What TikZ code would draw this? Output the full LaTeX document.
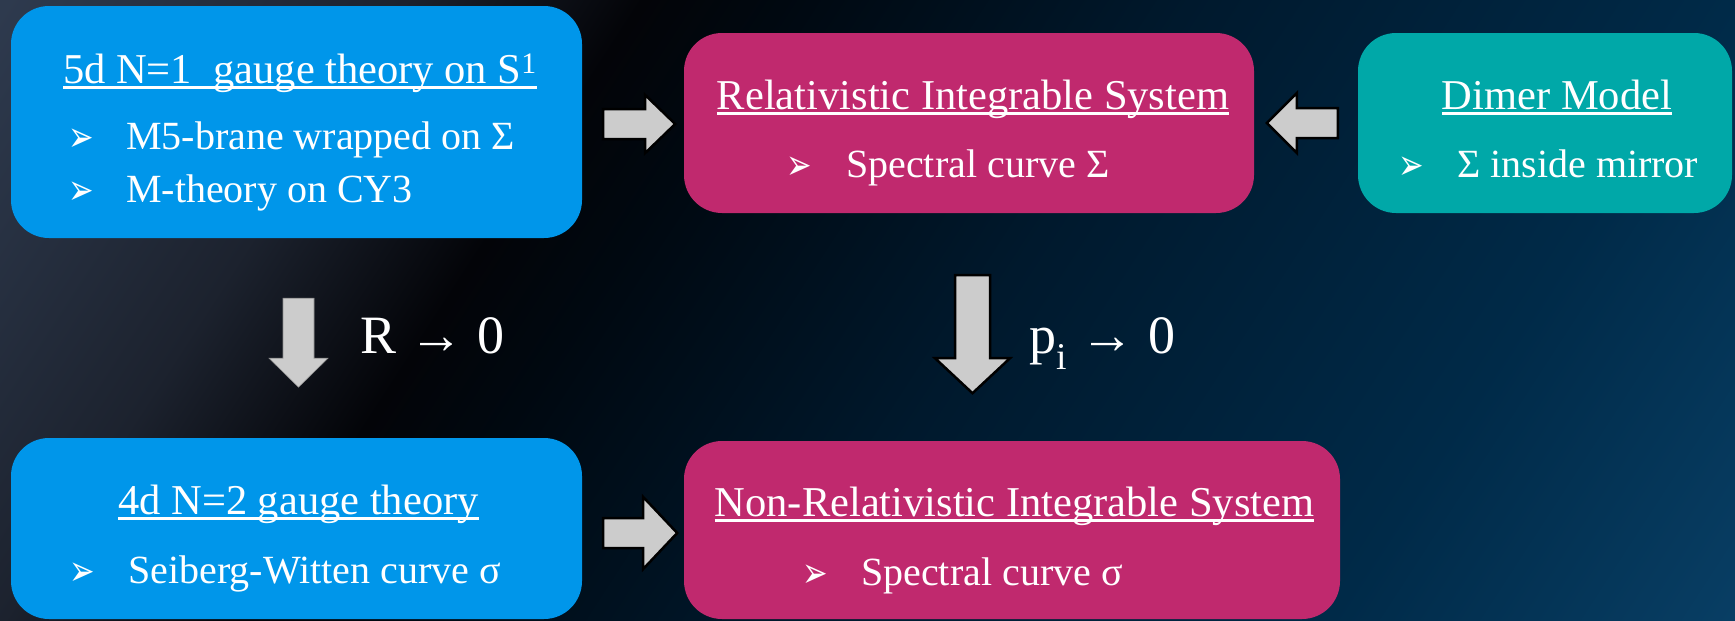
\documentclass[tikz,border=0pt]{standalone}
\usepackage{fontspec}
\usepackage{graphicx}
\setmainfont{Liberation Serif}
\newfontfamily\dvsans{DejaVu Sans}
\usetikzlibrary{calc}
\definecolor{boxblue}{RGB}{0,150,234}
\definecolor{boxpink}{RGB}{192,41,110}
\definecolor{boxteal}{RGB}{0,168,168}
\definecolor{arrgray}{RGB}{204,204,204}
\definecolor{bgA}{RGB}{46,58,78}
\definecolor{bgB}{RGB}{28,34,46}
\definecolor{bgC}{RGB}{3,4,8}
\definecolor{bgD}{RGB}{0,8,16}
\definecolor{bgE}{RGB}{0,25,45}
\definecolor{bgF}{RGB}{0,42,72}
\definecolor{bgG}{RGB}{8,62,100}
\pgfdeclarehorizontalshading{bgshade}{100bp}{color(0bp)=(bgA); color(27.6bp)=(bgA); color(36bp)=(bgB); color(41bp)=(bgC); color(44bp)=(bgD); color(52.6bp)=(bgE); color(64bp)=(bgF); color(72.5bp)=(bgG); color(100bp)=(bgG)}
\newcommand\ttlfont{\fontsize{42.5}{50}\selectfont}
\newcommand\itmfont{\fontsize{40}{48}\selectfont}
\newcommand\lblfont{\fontsize{54}{60}\selectfont}
\newcommand\thul[1]{\setbox0\hbox{#1}\rlap{\rule[-5.5pt]{\wd0}{3pt}}\box0}
\newcommand\bul{\raisebox{-2pt}{\scalebox{0.9}[1.25]{\dvsans\fontsize{34}{34}\selectfont ➢}}}
\tikzset{
 box/.style={rounded corners=38pt, inner sep=0pt},
 ttl/.style={anchor=base, inner sep=0pt, text=white, font=\ttlfont},
 itm/.style={anchor=base west, inner sep=0pt, text=white, font=\itmfont},
 bulnode/.style={anchor=base west, inner sep=0pt, text=white},
 lbl/.style={anchor=base west, inner sep=0pt, text=white, font=\lblfont},
 blk/.style={fill=arrgray, draw=black, line width=2.5pt, line join=miter},
 blkthin/.style={fill=arrgray, draw=arrgray!70!black, line width=0.6pt},
}
\begin{document}
\begin{tikzpicture}[x=1pt,y=-1pt]
\useasboundingbox (0,0) rectangle (1735,621);
\begin{scope}
\clip (0,0) rectangle (1735,621);
\shade[shading=bgshade, shading angle=-33] (-132.5,-690) rectangle (1867.5,1310);
\end{scope}
% boxes
\node[box, fill=boxblue, minimum width=571pt, minimum height=232pt] (A) at (296.5,122) {};
\node[box, fill=boxpink, minimum width=570pt, minimum height=180pt] (B) at (969,123) {};
\node[box, fill=boxteal, minimum width=374pt, minimum height=180pt] (C) at (1545,123) {};
\node[box, fill=boxblue, minimum width=571pt, minimum height=181pt] (D) at (296.5,528.5) {};
\node[box, fill=boxpink, minimum width=656pt, minimum height=178pt] (E) at (1012,530) {};
% texts
\node[ttl] (At) at (300,83) {\thul{5d N=1\ \ gauge theory on S\textsuperscript{1}}};
\node[bulnode] (Ab1) at (68,149) {\bul};
\node[itm] (Ai1) at (126,149) {M5-brane wrapped on Σ};
\node[bulnode] (Ab2) at (68,202) {\bul};
\node[itm] (Ai2) at (126,202) {M-theory on CY3};
\node[ttl] (Bt) at (973,109) {\thul{Relativistic Integrable System}};
\node[bulnode] (Bb) at (786,177) {\bul};
\node[itm] (Bi) at (846,177) {Spectral curve Σ};
\node[ttl] (Ct) at (1557,109) {\thul{Dimer Model}};
\node[bulnode] (Cb) at (1398,177) {\bul};
\node[itm] (Ci) at (1457,177) {Σ inside mirror};
\node[ttl] (Dt) at (298.5,514) {\thul{4d N=2 gauge theory}};
\node[bulnode] (Db) at (69,583) {\bul};
\node[itm] (Di) at (128,583) {Seiberg-Witten curve σ};
\node[ttl] (Et) at (1014.5,516) {\thul{Non-Relativistic Integrable System}};
\node[bulnode] (Eb) at (802,585) {\bul};
\node[itm] (Ei) at (861,585) {Spectral curve σ};
\node[lbl] (Rl) at (360,353) {R → 0};
\node[lbl] (Pl) at (1029,353) {p\textsubscript{i} → 0};
% block arrows
\coordinate (ab) at ($(A.east)+(21,2)$);
\coordinate (cb) at ($(C.west)+(-20,0)$);
\coordinate (rd) at ($(A.south)+(2,60)$);
\coordinate (pd) at ($(B.south)+(3.5,62)$);
\coordinate (de) at ($(D.east)+(21,4.5)$);
\draw[blk] (ab) ++(0,-15) -- ++(42,0) -- ++(0,-14) -- ++(30,29) -- ++(-30,29) -- ++(0,-14) -- ++(-42,0) -- cycle;
\draw[blk] (cb) ++(0,-15) -- ++(-41,0) -- ++(0,-15) -- ++(-30,30) -- ++(30,30) -- ++(0,-15) -- ++(41,0) -- cycle;
\draw[blkthin] (rd) ++(-15.5,0) -- ++(0,60) -- ++(-14,0) -- ++(29.5,29) -- ++(29.5,-29) -- ++(-14,0) -- ++(0,-60) -- cycle;
\draw[blk] (pd) ++(-17.5,0) -- ++(0,83) -- ++(-20,0) -- ++(37.5,35) -- ++(37.5,-35) -- ++(-20,0) -- ++(0,-83) -- cycle;
\draw[blk] (de) ++(0,-15) -- ++(40,0) -- ++(0,-21) -- ++(34,36) -- ++(-34,36) -- ++(0,-21) -- ++(-40,0) -- cycle;
\end{tikzpicture}
\end{document}
